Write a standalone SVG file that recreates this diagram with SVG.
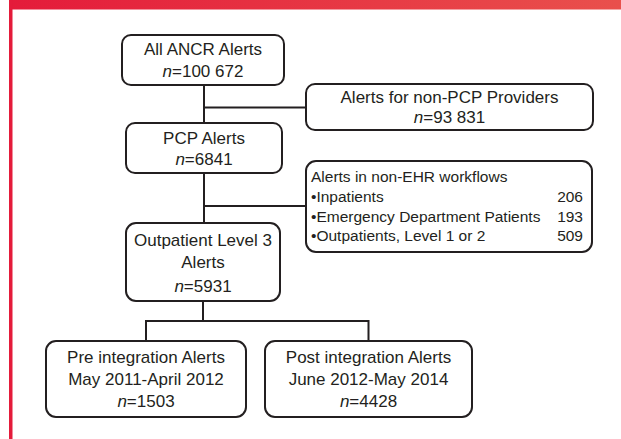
<svg xmlns="http://www.w3.org/2000/svg" width="621" height="439" viewBox="0 0 621 439">
<defs>
<linearGradient id="bar" x1="0" y1="0" x2="1" y2="0">
<stop offset="0" stop-color="#e41b3a"/>
<stop offset="1" stop-color="#e9504c"/>
</linearGradient>
<style>
.box{fill:#fff;stroke:#231f20;stroke-width:2}
.ln{fill:none;stroke:#231f20;stroke-width:2}
text{font-family:"Liberation Sans",Arial,sans-serif;font-size:17px;fill:#231f20}
.c{text-anchor:middle}
.s{font-size:15.5px}
.r{text-anchor:end}
.i{font-style:italic}
</style>
</defs>
<rect x="0" y="0" width="621" height="439" fill="#fff"/>
<rect x="9" y="0" width="612" height="9.5" fill="url(#bar)"/>
<rect x="9" y="0" width="3.5" height="439" fill="#e41b3a"/>
<g id="connectors">
<path class="ln" d="M204 85V123M204 107.5H306M204 173V223M204 206H306M203 301V321M146 321H368.5M146 320V341M368.5 320V341"/>
</g>
<g id="all">
<rect class="box" x="122" y="35" width="162" height="50" rx="9"/>
<text class="c" x="203" y="55">All ANCR Alerts</text>
<text class="c" x="203" y="77"><tspan class="i">n</tspan>=100 672</text>
</g>
<g id="nonpcp">
<rect class="box" x="306" y="84" width="287" height="46" rx="9"/>
<text class="c" x="449.5" y="103">Alerts for non-PCP Providers</text>
<text class="c" x="449.5" y="123"><tspan class="i">n</tspan>=93 831</text>
</g>
<g id="pcp">
<rect class="box" x="126" y="123" width="156" height="50" rx="9"/>
<text class="c" x="204" y="144">PCP Alerts</text>
<text class="c" x="204" y="165"><tspan class="i">n</tspan>=6841</text>
</g>
<g id="nonehr">
<rect class="box" x="306" y="161" width="286" height="91" rx="10"/>
<text class="s" x="311" y="182">Alerts in non-EHR workflows</text>
<text class="s" x="311" y="202">•Inpatients</text>
<text class="s r" x="583" y="202">206</text>
<text class="s" x="311" y="222">•Emergency Department Patients</text>
<text class="s r" x="583" y="222">193</text>
<text class="s" x="311" y="241">•Outpatients, Level 1 or 2</text>
<text class="s r" x="583" y="241">509</text>
</g>
<g id="outpt">
<rect class="box" x="126" y="223" width="154" height="78" rx="10"/>
<text class="c" x="203" y="246">Outpatient Level 3</text>
<text class="c" x="203" y="268">Alerts</text>
<text class="c" x="203" y="292"><tspan class="i">n</tspan>=5931</text>
</g>
<g id="pre">
<rect class="box" x="46" y="341" width="200" height="76" rx="10"/>
<text class="c" x="146" y="363">Pre integration Alerts</text>
<text class="c" x="146" y="385">May 2011-April 2012</text>
<text class="c" x="146" y="407"><tspan class="i">n</tspan>=1503</text>
</g>
<g id="post">
<rect class="box" x="265" y="341" width="207" height="76" rx="10"/>
<text class="c" x="368.5" y="363">Post integration Alerts</text>
<text class="c" x="368.5" y="385">June 2012-May 2014</text>
<text class="c" x="368.5" y="407"><tspan class="i">n</tspan>=4428</text>
</g>
</svg>
